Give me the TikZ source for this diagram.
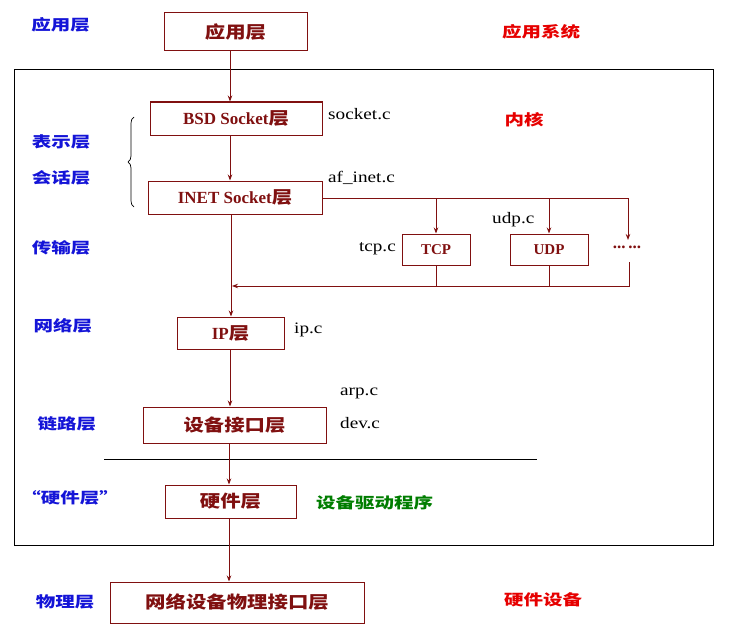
\documentclass[tikz,border=0pt]{standalone}
\usepackage{fontspec}
\setmainfont{Liberation Serif}
\newfontfamily\cjk{Noto Sans CJK SC}[FakeStretch=1.3]
\newfontfamily\cjkb{Noto Sans CJK SC}[FakeStretch=1.2]
\newfontfamily\fileserif{Liberation Serif}[FakeStretch=1.2]
\usetikzlibrary{arrows.meta,decorations.pathreplacing}
\definecolor{boxred}{RGB}{128,16,16}
\definecolor{lblue}{RGB}{20,20,215}
\definecolor{lred}{RGB}{230,0,0}
\definecolor{lgreen}{RGB}{0,125,0}
\tikzset{
  layerbox/.style={draw=boxred, line width=1pt, text=boxred, inner sep=0pt, font=\bfseries},
  layerlbl/.style={text=lblue, font=\cjk\bfseries\fontsize{15}{15}\selectfont, inner sep=0pt},
  sidelbl/.style={text=lred, font=\cjk\bfseries\fontsize{15}{15}\selectfont, inner sep=0pt},
  filelbl/.style={text=black, font=\fileserif\fontsize{16}{16}\selectfont, inner sep=0pt},
  flow/.style={draw=boxred, line width=0.9pt, -{Stealth[length=6pt,width=4.5pt]}},
  wire/.style={draw=boxred, line width=0.9pt},
}
\newcommand{\boxcjk}{\cjkb\fontsize{17}{17}\selectfont}
\newcommand{\boxlat}{\fontsize{17}{17}\selectfont}
\begin{document}
\begin{tikzpicture}[x=1pt,y=-1pt]
\useasboundingbox (0,0) rectangle (734,634);
% kernel frame
\draw[line width=1pt] (14,70) rectangle (713,545);
% boxes
\node[layerbox, minimum width=143pt, minimum height=38pt] (app) at (235.5,32) {\boxcjk 应用层};
\node[layerbox, minimum width=172pt, minimum height=33pt] (bsd) at (236,118.5) {\boxlat BSD Socket{\boxcjk 层}};
\node[layerbox, minimum width=174pt, minimum height=33pt] (inet) at (235,197.5) {\boxlat INET Socket{\boxcjk 层}};
\node[layerbox, minimum width=68pt, minimum height=31pt] (tcp) at (436,249.5) {\fontsize{15}{15}\selectfont TCP};
\node[layerbox, minimum width=78pt, minimum height=31pt] (udp) at (549,249.5) {\fontsize{15}{15}\selectfont UDP};
\node[text=boxred, font=\bfseries\fontsize{17}{17}\selectfont, inner sep=0pt, minimum height=12pt] (dots) at (627,247) {...\,...};
\node[layerbox, minimum width=107pt, minimum height=32pt] (ip) at (230.5,333) {\boxlat IP{\boxcjk 层}};
\node[layerbox, minimum width=183pt, minimum height=36pt] (dev) at (234.5,425) {\boxcjk 设备接口层};
\node[layerbox, minimum width=131pt, minimum height=33pt] (hw) at (230.5,501.5) {\boxcjk 硬件层};
\node[layerbox, minimum width=254pt, minimum height=41pt] (phy) at (237,602.5) {\boxcjk 网络设备物理接口层};
% left layer labels
\node[layerlbl] (lapp) at (60.5,25) {应用层};
\node[layerlbl] (lpres) at (61,142) {表示层};
\node[layerlbl] (lsess) at (61,178) {会话层};
\node[layerlbl] (ltrans) at (61,248) {传输层};
\node[layerlbl] (lnet) at (63,326) {网络层};
\node[layerlbl] (llink) at (67,424) {链路层};
\node[layerlbl] (lhw) at (70,498) {“硬件层”};
\node[layerlbl] (lphy) at (65,602) {物理层};
% right labels
\node[sidelbl] (rapp) at (541,32) {应用系统};
\node[sidelbl] (rkern) at (524,120) {内核};
\node[sidelbl] (rhw) at (543,600) {硬件设备};
\node[text=lgreen, font=\cjk\bfseries\fontsize{15}{15}\selectfont, inner sep=0pt, anchor=west] (rdrv) at (316,503) {设备驱动程序};
% file labels
\node[filelbl, anchor=west] (fsock) at (328,114) {socket.c};
\node[filelbl, anchor=west] (finet) at (328,178) {af\_inet.c};
\node[filelbl, anchor=east] (ftcp) at (396,249) {tcp.c};
\node[filelbl, anchor=west] (fudp) at (492,220) {udp.c};
\node[filelbl, anchor=west] (fip) at (294,330) {ip.c};
\node[filelbl, anchor=west] (farp) at (340,393) {arp.c};
\node[filelbl, anchor=west] (fdev) at (340,423) {dev.c};
% brace
\draw[line width=0.7pt, decorate, decoration={brace, amplitude=6pt}] (134,207) -- (134,117);
% separator line
\coordinate (sepL) at (104,459);
\coordinate (sepR) at (537,459);
\draw[line width=1pt] (sepL) -- (sepR);
% main flow
\draw[flow] (app.south -| 230,0) -- (bsd.north -| 230,0);
\draw[flow] (bsd.south -| 230,0) -- (inet.north -| 230,0);
\draw[flow] (inet.south -| 231,0) -- (ip.north -| 231,0);
\draw[flow] (ip.south -| 230,0) -- (dev.north -| 230,0);
\draw[flow] (dev.south -| 229,0) -- (hw.north -| 229,0);
\draw[flow] (hw.south -| 229,0) -- (phy.north -| 229,0);
% fan out to transport protocols
\coordinate (fanend) at (628,198);
\coordinate (dotstop) at (628,240);
\draw[wire] (inet.east |- fanend) -- (fanend);
\draw[flow] (tcp.north |- fanend) -- (tcp.north);
\draw[flow] (udp.north |- fanend) -- (udp.north);
\draw[flow] (fanend) -- (dotstop);
% return bus
\coordinate (busend) at (232,286);
\coordinate (dotsbot) at (629,262);
\draw[flow] (dotsbot) |- (busend);
\draw[wire] (tcp.south) -- (tcp.south |- busend);
\draw[wire] (udp.south) -- (udp.south |- busend);
\end{tikzpicture}
\end{document}
